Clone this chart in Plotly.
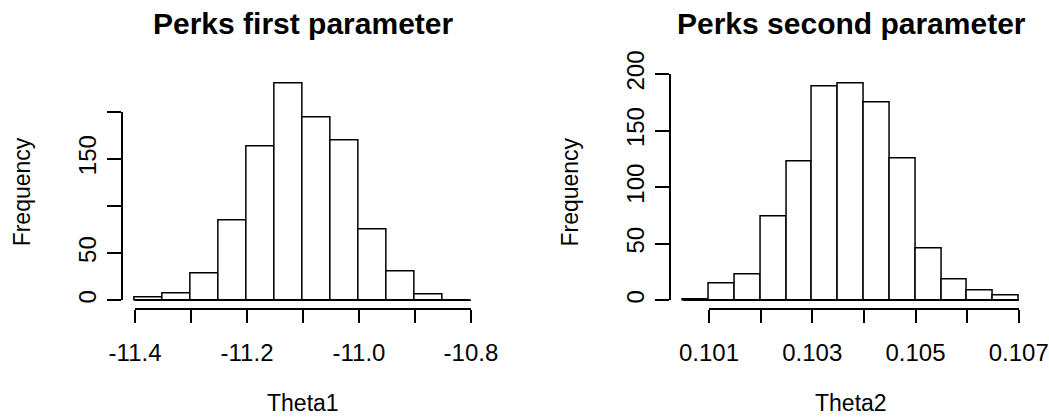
import plotly.graph_objects as go

# ---------------- data ----------------
theta1_breaks = [-11.40, -11.35, -11.30, -11.25, -11.20, -11.15, -11.10,
                 -11.05, -11.00, -10.95, -10.90, -10.85, -10.80]
theta1_counts = [3, 7, 28, 85, 163, 230, 194, 169, 75, 31, 6, 0]
theta1_ticks = [-11.4, -11.3, -11.2, -11.1, -11.0, -10.9, -10.8]
theta1_ticktext = ["-11.4", "", "-11.2", "", "-11.0", "", "-10.8"]

theta2_breaks = [0.1005, 0.1010, 0.1015, 0.1020, 0.1025, 0.1030, 0.1035,
                 0.1040, 0.1045, 0.1050, 0.1055, 0.1060, 0.1065, 0.1070]
theta2_counts = [1, 15, 23, 74, 123, 189, 192, 175, 125, 46, 18, 9, 4]
theta2_ticks = [0.101, 0.102, 0.103, 0.104, 0.105, 0.106, 0.107]
theta2_ticktext = ["0.101", "", "0.103", "", "0.105", "", "0.107"]

freq_ticks = [0, 50, 100, 150, 200]
freq_ticktext1 = ["0", "50", "", "150", ""]
freq_ticktext2 = ["0", "50", "100", "150", "200"]

titles = ["Perks first parameter", "Perks second parameter"]
xlabels = ["Theta1", "Theta2"]
ylabel = "Frequency"

# ---------------- layout geometry (pixels) ----------------
W, H = 1049, 418
FONT = "Liberation Sans, Arial, Helvetica, sans-serif"
TICK = 24
LAB = 23
MAIN = 30
LW = 1.5
plot_top, plot_bot = 74.5, 309.0
panels_x = [(121.6, 484.4), (669.8, 1032.2)]


def fx(px):
    return px / W


def fy(py):
    return 1 - py / H


fig = go.Figure()
layout = dict(
    template="none",
    width=W, height=H, autosize=False,
    margin=dict(l=0, r=0, t=0, b=0, pad=0),
    paper_bgcolor="white", plot_bgcolor="rgba(0,0,0,0)",
    showlegend=False, bargap=0,
    font=dict(family=FONT, size=LAB, color="black"),
)
annotations = []

datasets = [
    (theta1_breaks, theta1_counts, theta1_ticks, theta1_ticktext, freq_ticktext1),
    (theta2_breaks, theta2_counts, theta2_ticks, theta2_ticktext, freq_ticktext2),
]

for i, (breaks, counts, xt, xtt, ytt) in enumerate(datasets):
    n = i + 1
    px0, px1 = panels_x[i]
    # R-style limits: range extended by 4% each side
    bmin, bmax = breaks[0], breaks[-1]
    dx = 0.04 * (bmax - bmin)
    xr = [bmin - dx, bmax + dx]
    cmax = max(counts)
    dy = 0.04 * cmax
    yr = [-dy, cmax + dy]
    dom_x = [fx(px0), fx(px1)]
    dom_y = [fy(plot_bot), fy(plot_top)]

    def mapx(v):
        return dom_x[0] + (v - xr[0]) / (xr[1] - xr[0]) * (dom_x[1] - dom_x[0])

    def mapy(v):
        return dom_y[0] + (v - yr[0]) / (yr[1] - yr[0]) * (dom_y[1] - dom_y[0])

    centers = [(breaks[k] + breaks[k + 1]) / 2 for k in range(len(counts))]
    widths = [breaks[k + 1] - breaks[k] for k in range(len(counts))]

    xa = "x" if n == 1 else f"x{n}"
    ya = "y" if n == 1 else f"y{n}"
    fig.add_trace(go.Bar(
        x=centers, y=counts, width=widths, xaxis=xa, yaxis=ya,
        marker=dict(color="white", line=dict(color="black", width=LW)),
        hoverinfo="x+y",
    ))
    fig.add_trace(go.Scatter(
        x=[bmin, bmax], y=[0, 0], xaxis=xa, yaxis=ya, mode="lines",
        line=dict(color="black", width=LW), hoverinfo="skip",
    ))

    hidden = dict(visible=False, showgrid=False, zeroline=False,
                  fixedrange=True, automargin=False)
    layout["xaxis" if n == 1 else f"xaxis{n}"] = dict(
        domain=dom_x, range=xr, anchor=ya, **hidden)
    layout["yaxis" if n == 1 else f"yaxis{n}"] = dict(
        domain=dom_y, range=yr, anchor=xa, **hidden)

    # R-style axes (lines span first..last tick only)
    k = n + 2
    layout[f"xaxis{k}"] = dict(
        domain=[mapx(xt[0]), mapx(xt[-1])], range=[xt[0], xt[-1]],
        anchor="free", position=dom_y[0], automargin=False,
        showline=True, linecolor="black", linewidth=LW,
        ticks="outside", ticklen=13, tickwidth=LW, tickcolor="black",
        tickvals=xt, ticktext=xtt, tickangle=0,
        tickfont=dict(family=FONT, size=TICK, color="black"),
        ticklabelstandoff=9,
        showgrid=False, zeroline=False, fixedrange=True,
    )
    layout[f"yaxis{k}"] = dict(
        domain=[mapy(freq_ticks[0]), mapy(freq_ticks[-1])],
        range=[freq_ticks[0], freq_ticks[-1]],
        anchor="free", position=dom_x[0], automargin=False,
        showline=True, linecolor="black", linewidth=LW,
        ticks="outside", ticklen=14, tickwidth=LW, tickcolor="black",
        tickvals=freq_ticks, ticktext=ytt, tickangle=-90,
        tickfont=dict(family=FONT, size=TICK, color="black"),
        ticklabelstandoff=1,
        showgrid=False, zeroline=False, fixedrange=True,
    )
    fig.add_trace(go.Scatter(
        x=[xt[0]], y=[freq_ticks[0]], xaxis=f"x{k}", yaxis=f"y{k}",
        mode="markers", marker=dict(opacity=0), hoverinfo="skip",
    ))

    cx = fx((px0 + px1) / 2)
    annotations.append(dict(
        text=f"<b>{titles[i]}</b>", x=cx, y=fy(23), xref="paper", yref="paper",
        xanchor="center", yanchor="middle", showarrow=False,
        font=dict(family=FONT, size=MAIN, color="black"),
    ))
    annotations.append(dict(
        text=xlabels[i], x=cx, y=fy(403), xref="paper", yref="paper",
        xanchor="center", yanchor="middle", showarrow=False,
        font=dict(family=FONT, size=LAB, color="black"),
    ))
    annotations.append(dict(
        text=ylabel, x=fx(px0 - 100), y=fy((plot_top + plot_bot) / 2),
        xref="paper", yref="paper", textangle=-90,
        xanchor="center", yanchor="middle", showarrow=False,
        font=dict(family=FONT, size=LAB, color="black"),
    ))

layout["annotations"] = annotations
fig.update_layout(**layout)
fig.write_html("out.html")
